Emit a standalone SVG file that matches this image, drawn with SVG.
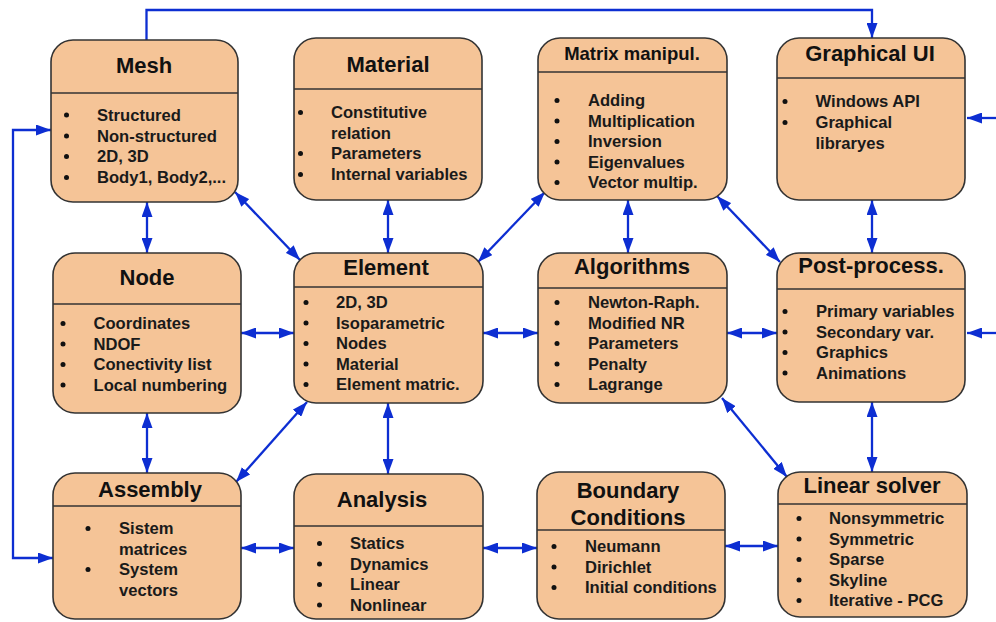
<svg xmlns="http://www.w3.org/2000/svg" width="996" height="622" viewBox="0 0 996 622">
<defs>
<marker id="arr" viewBox="0 0 15 11" refX="15" refY="5.5" markerWidth="15" markerHeight="11" markerUnits="userSpaceOnUse" orient="auto-start-reverse">
<path d="M0,0 L15,5.5 L0,11 z" fill="#0d2ed2"/>
</marker>
<style>
.box{fill:#f5c497;stroke:#333;stroke-width:1.6}
.hl{stroke:#333;stroke-width:1.6}
.t{font-family:"Liberation Sans",Arial,sans-serif;font-weight:bold;font-size:22px;fill:#111;text-anchor:middle}
.i{font-family:"Liberation Sans",Arial,sans-serif;font-weight:bold;font-size:16.6px;fill:#1a1a1a}
.b{fill:#111}
.c{fill:none;stroke:#0d2ed2;stroke-width:2.3}
.d{marker-start:url(#arr);marker-end:url(#arr)}
.e{marker-end:url(#arr)}
</style>
</defs>
<rect width="996" height="622" fill="#fff"/>

<g id="connectors">
<path class="c e" d="M146.5,40 V10 H872 V38"/>
<path class="c d" d="M51,130 H13 V558 H53"/>
<path class="c e" d="M996,118 H967"/>
<path class="c e" d="M996,333 H967"/>
<path class="c d" d="M147,202 V253"/>
<path class="c d" d="M235,192 L300,260"/>
<path class="c d" d="M388,200 V253"/>
<path class="c d" d="M545,192 L478,262"/>
<path class="c d" d="M628,200 V253"/>
<path class="c d" d="M717,196 L780,262"/>
<path class="c d" d="M872,200 V253"/>
<path class="c d" d="M241,333 H294"/>
<path class="c d" d="M483,333 H538"/>
<path class="c d" d="M727,333 H777"/>
<path class="c d" d="M147,413 V473"/>
<path class="c d" d="M307,402 L236,482"/>
<path class="c d" d="M388,403 V474"/>
<path class="c d" d="M722,398 L787,477"/>
<path class="c d" d="M872,402 V472"/>
<path class="c d" d="M241,548 H294"/>
<path class="c d" d="M483,548 H537"/>
<path class="c d" d="M725,546 H778"/>
</g>

<g id="mesh">
<rect class="box" x="51" y="40" width="187" height="162" rx="22"/>
<line class="hl" x1="51" y1="93" x2="238" y2="93"/>
<text class="t" x="144" y="73">Mesh</text>
<circle class="b" cx="66.5" cy="115" r="2.5"/><circle class="b" cx="66.5" cy="136" r="2.5"/><circle class="b" cx="66.5" cy="156.5" r="2.5"/><circle class="b" cx="66.5" cy="177.5" r="2.5"/>
<text class="i" x="97" y="121">Structured</text>
<text class="i" x="97" y="141.5">Non-structured</text>
<text class="i" x="97" y="162">2D, 3D</text>
<text class="i" x="97" y="183">Body1, Body2,...</text>
</g>

<g id="material">
<rect class="box" x="294" y="38" width="188" height="162" rx="22"/>
<line class="hl" x1="294" y1="89" x2="482" y2="89"/>
<text class="t" x="388" y="72">Material</text>
<circle class="b" cx="300.5" cy="112.5" r="2.5"/><circle class="b" cx="300.5" cy="153.5" r="2.5"/><circle class="b" cx="300.5" cy="174.5" r="2.5"/>
<text class="i" x="331" y="118">Constitutive</text>
<text class="i" x="331" y="138.5">relation</text>
<text class="i" x="331" y="159">Parameters</text>
<text class="i" x="331" y="180">Internal variables</text>
</g>

<g id="matrix">
<rect class="box" x="538" y="38" width="189" height="162" rx="22"/>
<line class="hl" x1="538" y1="72" x2="727" y2="72"/>
<text class="t" x="632" y="60" style="font-size:18.5px">Matrix manipul.</text>
<circle class="b" cx="557" cy="100.5" r="2.5"/><circle class="b" cx="557" cy="121" r="2.5"/><circle class="b" cx="557" cy="141.5" r="2.5"/><circle class="b" cx="557" cy="162" r="2.5"/><circle class="b" cx="557" cy="182.5" r="2.5"/>
<text class="i" x="588" y="106">Adding</text>
<text class="i" x="588" y="126.5">Multiplication</text>
<text class="i" x="588" y="147">Inversion</text>
<text class="i" x="588" y="167.5">Eigenvalues</text>
<text class="i" x="588" y="188">Vector multip.</text>
</g>

<g id="graphical-ui">
<rect class="box" x="777" y="38" width="188" height="162" rx="22"/>
<line class="hl" x1="777" y1="78" x2="965" y2="78"/>
<text class="t" x="870" y="61">Graphical UI</text>
<circle class="b" cx="785" cy="101.5" r="2.5"/><circle class="b" cx="785" cy="122.5" r="2.5"/>
<text class="i" x="815.5" y="107">Windows API</text>
<text class="i" x="815.5" y="128">Graphical</text>
<text class="i" x="815.5" y="148.5">libraryes</text>
</g>

<g id="node">
<rect class="box" x="53" y="253" width="188" height="160" rx="22"/>
<line class="hl" x1="53" y1="304" x2="241" y2="304"/>
<text class="t" x="147" y="285">Node</text>
<circle class="b" cx="63" cy="323.5" r="2.5"/><circle class="b" cx="63" cy="344" r="2.5"/><circle class="b" cx="63" cy="364.5" r="2.5"/><circle class="b" cx="63" cy="385" r="2.5"/>
<text class="i" x="93.5" y="329">Coordinates</text>
<text class="i" x="93.5" y="349.5">NDOF</text>
<text class="i" x="93.5" y="370">Conectivity list</text>
<text class="i" x="93.5" y="390.5">Local numbering</text>
</g>

<g id="element">
<rect class="box" x="294" y="253" width="189" height="150" rx="22"/>
<line class="hl" x1="294" y1="287" x2="483" y2="287"/>
<text class="t" x="386" y="275">Element</text>
<circle class="b" cx="306" cy="302.5" r="2.5"/><circle class="b" cx="306" cy="323" r="2.5"/><circle class="b" cx="306" cy="343.5" r="2.5"/><circle class="b" cx="306" cy="364" r="2.5"/><circle class="b" cx="306" cy="384.5" r="2.5"/>
<text class="i" x="336" y="308">2D, 3D</text>
<text class="i" x="336" y="328.5">Isoparametric</text>
<text class="i" x="336" y="349">Nodes</text>
<text class="i" x="336" y="369.5">Material</text>
<text class="i" x="336" y="390">Element matric.</text>
</g>

<g id="algorithms">
<rect class="box" x="538" y="253" width="189" height="150" rx="22"/>
<line class="hl" x1="538" y1="288" x2="727" y2="288"/>
<text class="t" x="632" y="274">Algorithms</text>
<circle class="b" cx="557" cy="302.5" r="2.5"/><circle class="b" cx="557" cy="323" r="2.5"/><circle class="b" cx="557" cy="343.5" r="2.5"/><circle class="b" cx="557" cy="364" r="2.5"/><circle class="b" cx="557" cy="384.5" r="2.5"/>
<text class="i" x="588" y="308">Newton-Raph.</text>
<text class="i" x="588" y="328.5">Modified NR</text>
<text class="i" x="588" y="349">Parameters</text>
<text class="i" x="588" y="369.5">Penalty</text>
<text class="i" x="588" y="390">Lagrange</text>
</g>

<g id="post-process">
<rect class="box" x="777" y="253" width="188" height="149" rx="22"/>
<line class="hl" x1="777" y1="289" x2="965" y2="289"/>
<text class="t" x="871" y="273">Post-process.</text>
<circle class="b" cx="785" cy="311.5" r="2.5"/><circle class="b" cx="785" cy="332" r="2.5"/><circle class="b" cx="785" cy="352.5" r="2.5"/><circle class="b" cx="785" cy="373" r="2.5"/>
<text class="i" x="816" y="317">Primary variables</text>
<text class="i" x="816" y="337.5">Secondary var.</text>
<text class="i" x="816" y="358">Graphics</text>
<text class="i" x="816" y="378.5">Animations</text>
</g>

<g id="assembly">
<rect class="box" x="53" y="473" width="188" height="146" rx="22"/>
<line class="hl" x1="53" y1="506" x2="241" y2="506"/>
<text class="t" x="150" y="497">Assembly</text>
<circle class="b" cx="88" cy="528.5" r="2.5"/><circle class="b" cx="88" cy="569.5" r="2.5"/>
<text class="i" x="119" y="534">Sistem</text>
<text class="i" x="119" y="554.5">matrices</text>
<text class="i" x="119" y="575">System</text>
<text class="i" x="119" y="595.5">vectors</text>
</g>

<g id="analysis">
<rect class="box" x="294" y="474" width="189" height="145" rx="22"/>
<line class="hl" x1="294" y1="526" x2="483" y2="526"/>
<text class="t" x="382" y="507">Analysis</text>
<circle class="b" cx="319.5" cy="543.5" r="2.5"/><circle class="b" cx="319.5" cy="564" r="2.5"/><circle class="b" cx="319.5" cy="584.5" r="2.5"/><circle class="b" cx="319.5" cy="605" r="2.5"/>
<text class="i" x="350" y="549">Statics</text>
<text class="i" x="350" y="569.5">Dynamics</text>
<text class="i" x="350" y="590">Linear</text>
<text class="i" x="350" y="610.5">Nonlinear</text>
</g>

<g id="boundary-conditions">
<rect class="box" x="537" y="472" width="188" height="147" rx="22"/>
<line class="hl" x1="537" y1="530" x2="725" y2="530"/>
<text class="t" x="628" y="498">Boundary</text>
<text class="t" x="628" y="525">Conditions</text>
<circle class="b" cx="554" cy="546.5" r="2.5"/><circle class="b" cx="554" cy="567" r="2.5"/><circle class="b" cx="554" cy="587.5" r="2.5"/>
<text class="i" x="585" y="552">Neumann</text>
<text class="i" x="585" y="572.5">Dirichlet</text>
<text class="i" x="585" y="593">Initial conditions</text>
</g>

<g id="linear-solver">
<rect class="box" x="778" y="472" width="189" height="145" rx="22"/>
<line class="hl" x1="778" y1="504" x2="967" y2="504"/>
<text class="t" x="872" y="493">Linear solver</text>
<circle class="b" cx="799" cy="518.5" r="2.5"/><circle class="b" cx="799" cy="539" r="2.5"/><circle class="b" cx="799" cy="559.5" r="2.5"/><circle class="b" cx="799" cy="580" r="2.5"/><circle class="b" cx="799" cy="600.5" r="2.5"/>
<text class="i" x="829" y="524">Nonsymmetric</text>
<text class="i" x="829" y="544.5">Symmetric</text>
<text class="i" x="829" y="565">Sparse</text>
<text class="i" x="829" y="585.5">Skyline</text>
<text class="i" x="829" y="606">Iterative - PCG</text>
</g>
</svg>
